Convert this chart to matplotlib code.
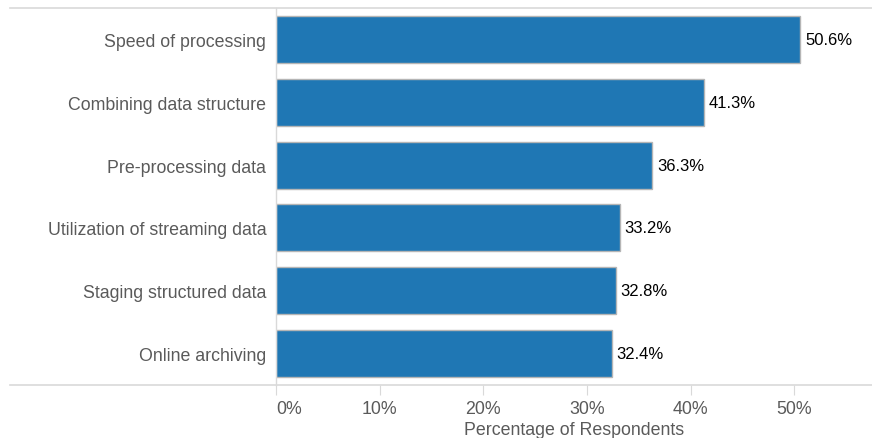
import matplotlib.pyplot as plt
from matplotlib.lines import Line2D

plt.rcParams['font.family'] = ['Liberation Sans', 'DejaVu Sans']

# data
CATEGORIES = [
    "Speed of processing",
    "Combining data structure",
    "Pre-processing data",
    "Utilization of streaming data",
    "Staging structured data",
    "Online archiving",
]
VALUES = [50.6, 41.3, 36.3, 33.2, 32.8, 32.4]
XTICKS = [0, 10, 20, 30, 40, 50]

BAR_COLOR = "#1f77b4"
GRID_COLOR = "#d9d9d9"
TEXT_GRAY = "#5a5a5a"

W, H = 872, 439
fig = plt.figure(figsize=(W / 100, H / 100), dpi=100)
ax = fig.add_axes([276 / W, 1 - 386 / H, 1 - 276 / W, (386 - 9) / H])

ys = list(range(len(CATEGORIES)))
ax.barh(ys, VALUES, height=0.75, color=BAR_COLOR, edgecolor="#b5b5b5", linewidth=1.0)
for y, v in zip(ys, VALUES):
    ax.text(v + 0.45, y, f"{v:.1f}%", va="center", ha="left", fontsize=12, color="black")

ax.set_ylim(len(CATEGORIES) - 0.5, -0.5)
ax.set_xlim(0, 57.5)
ax.set_yticks(ys)
ax.set_yticklabels(CATEGORIES, fontsize=12.8, color=TEXT_GRAY)
ax.set_xticks(XTICKS)
ax.set_xticklabels([f"{t}%" for t in XTICKS], fontsize=12.8, color=TEXT_GRAY)
ax.get_xticklabels()[0].set_ha("left")
ax.tick_params(axis="y", length=0, pad=7)
ax.tick_params(axis="x", length=7, color=GRID_COLOR, pad=4)
ax.set_xlabel("Percentage of Respondents", fontsize=12.8, color=TEXT_GRAY, labelpad=3)

for s in ["top", "right", "bottom"]:
    ax.spines[s].set_visible(False)
ax.spines["left"].set_color(GRID_COLOR)
ax.spines["left"].set_linewidth(1.0)

# full-width rules above and below
for yy in [9, 386]:
    fig.add_artist(Line2D([10 / W, 1], [1 - yy / H, 1 - yy / H], color=GRID_COLOR, lw=1.2,
                          transform=fig.transFigure))

fig.savefig("out.png", dpi=100)
